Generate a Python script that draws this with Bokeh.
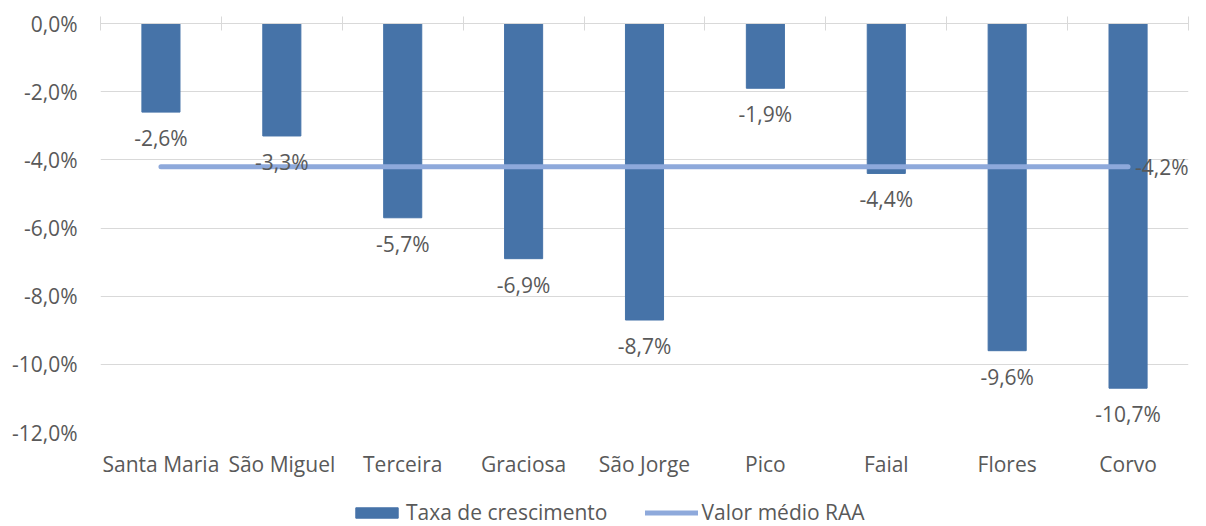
from bokeh.plotting import figure
from bokeh.layouts import column
from bokeh.models import Range1d, FixedTicker, LinearAxis, Legend, LegendItem, ColumnDataSource
from bokeh.core.properties import value
from bokeh.embed import file_html
from bokeh.resources import INLINE

categories = ["Santa Maria", "São Miguel", "Terceira", "Graciosa", "São Jorge", "Pico", "Faial", "Flores", "Corvo"]
growth = [-2.6, -3.3, -5.7, -6.9, -8.7, -1.9, -4.4, -9.6, -10.7]
avg_raa = [-4.2] * 9
y_ticks = [0, -2, -4, -6, -8, -10, -12]
y_tick_labels = ["0,0%", "-2,0%", "-4,0%", "-6,0%", "-8,0%", "-10,0%", "-12,0%"]
series_names = ["Taxa de crescimento", "Valor médio RAA"]

FONT = "Open Sans"
FS = "21px"
TXT = "#595959"
BAR = "#4673A8"
LINE = "#8EA9DB"

def fmt(v):
    return ("%.1f%%" % v).replace(".", ",")

centers = [i + 0.5 for i in range(len(categories))]
bounds = list(range(len(categories) + 1))

p = figure(width=1206, height=494, output_backend="svg", toolbar_location=None,
           x_range=Range1d(0, len(categories)), y_range=Range1d(-12, 0),
           min_border_left=100, min_border_right=18, min_border_top=23, min_border_bottom=62)
p.outline_line_color = None
p.background_fill_color = "white"

# axes
p.xaxis.ticker = FixedTicker(ticks=centers)
p.xaxis.major_label_overrides = {c: n for c, n in zip(centers, categories)}
p.xaxis.axis_line_color = None
p.xaxis.major_tick_line_color = None
p.xaxis.minor_tick_line_color = None
p.xaxis.major_label_standoff = 11
p.xaxis.major_label_text_font = FONT
p.xaxis.major_label_text_font_size = FS
p.xaxis.major_label_text_color = TXT

p.yaxis.ticker = FixedTicker(ticks=y_ticks)
p.yaxis.major_label_overrides = {t: l for t, l in zip(y_ticks, y_tick_labels)}
p.yaxis.axis_line_color = None
p.yaxis.major_tick_line_color = None
p.yaxis.minor_tick_line_color = None
p.yaxis.major_label_standoff = 17
p.yaxis.major_label_text_font = FONT
p.yaxis.major_label_text_font_size = FS
p.yaxis.major_label_text_color = TXT

p.xgrid.grid_line_color = None
p.ygrid.ticker = FixedTicker(ticks=y_ticks)
p.ygrid.grid_line_color = "#D9D9D9"
p.ygrid.grid_line_width = 1

top_axis = LinearAxis(ticker=FixedTicker(ticks=bounds),
                      major_label_overrides={b: "" for b in bounds},
                      major_tick_in=7, major_tick_out=7,
                      major_tick_line_color="#D9D9D9", axis_line_color="#D9D9D9",
                      minor_tick_line_color=None, major_label_text_font_size="1px",
                      major_label_standoff=0)
p.add_layout(top_axis, "above")

src = ColumnDataSource(dict(x=centers, top=[0] * len(growth), bottom=growth,
                            lab=[fmt(v) for v in growth], cat=categories))
bars = p.vbar(x="x", top="top", bottom="bottom", width=0.315, source=src,
              fill_color=BAR, line_color=BAR)

line_src = ColumnDataSource(dict(x=centers, y=avg_raa))
ln = p.line(x="x", y="y", source=line_src, line_color=LINE, line_width=5, line_cap="round")

p.text(x="x", y="bottom", text="lab", source=src, text_align="center", text_baseline="middle",
       y_offset=26, text_font=value(FONT), text_font_size=FS, text_color=TXT)

p.text(x=[centers[-1]], y=[avg_raa[-1]], text=[fmt(avg_raa[-1])], text_align="left",
       text_baseline="middle", x_offset=7, text_font=value(FONT), text_font_size=FS, text_color=TXT)

# legend strip (its renderers share the data but lie outside its visible range)
lg = figure(width=1206, height=32, output_backend="svg", toolbar_location=None,
            x_range=Range1d(0, len(categories)), y_range=Range1d(1, 2),
            min_border_left=100, min_border_right=18, min_border_top=0, min_border_bottom=0)
lg.axis.visible = False
lg.grid.grid_line_color = None
lg.outline_line_color = None
lb = lg.vbar(x="x", top="top", bottom="bottom", width=0.315, source=src,
             fill_color=BAR, line_color=BAR)
ll = lg.line(x="x", y="y", source=line_src, line_color=LINE, line_width=5, line_cap="round")
legend = Legend(items=[LegendItem(label=series_names[0], renderers=[lb]),
                       LegendItem(label=series_names[1], renderers=[ll])],
                orientation="horizontal", location=(250, 0),
                glyph_width=53, glyph_height=13, label_standoff=3, spacing=38,
                label_text_font=FONT, label_text_font_size=FS, label_text_color=TXT,
                border_line_color=None, background_fill_alpha=0, padding=0, margin=0)
lg.add_layout(legend, "center")

layout = column(p, lg, spacing=0)
open("out.html", "w").write(file_html(layout, INLINE))
